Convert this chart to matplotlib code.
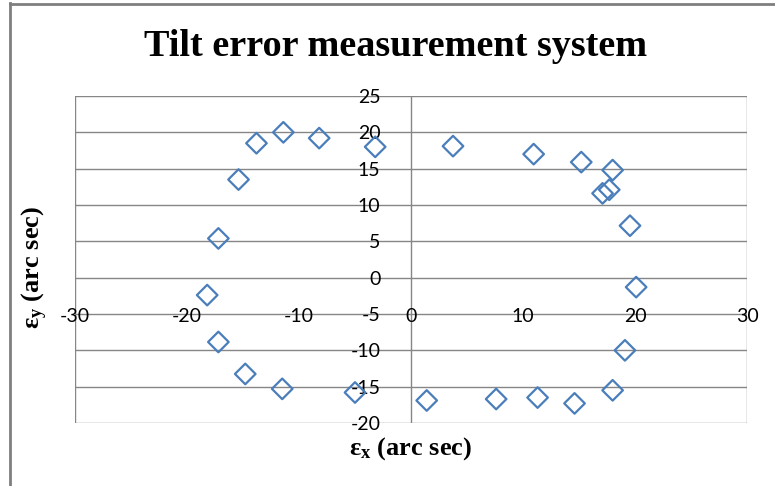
import matplotlib
matplotlib.use('Agg')
import matplotlib.pyplot as plt
from matplotlib.lines import Line2D

plt.rcParams['mathtext.fontset'] = 'custom'
plt.rcParams['mathtext.rm'] = 'Liberation Serif:bold'
plt.rcParams['mathtext.bf'] = 'Liberation Serif:bold'
plt.rcParams['mathtext.it'] = 'Liberation Serif:bold'

# measured tilt errors (arc sec)
eps_x = [-17.2, -15.4, -13.8, -11.4, -8.2, -3.2,
         3.75, 10.95, 15.2, 18.0, 17.1, 17.7, 19.55,
         20.1, 19.1, 18.0, 14.6, 11.3, 7.6, 1.4,
         -5.0, -11.5, -14.8, -17.2, -18.2]
eps_y = [5.4, 13.5, 18.5, 20.0, 19.2, 18.0,
         18.1, 17.0, 15.9, 14.8, 11.6, 12.1, 7.15,
         -1.3, -10.0, -15.5, -17.3, -16.5, -16.7, -16.9,
         -15.8, -15.3, -13.25, -8.85, -2.4]

x_ticks = [-30, -20, -10, 0, 10, 20, 30]
y_ticks = [-20, -15, -10, -5, 0, 5, 10, 15, 20, 25]

grid_col = '#868686'
blue = '#4a7ebb'

fig = plt.figure(figsize=(7.75, 4.86), dpi=100)
ax = fig.add_axes([0.0968, 0.1296, 0.8671, 0.6729])

ax.set_xlim(-30, 30)
ax.set_ylim(-20, 25)
for y in y_ticks:
    ax.axhline(y, color=grid_col, lw=1.0, zorder=1)
for x in (-30, 0, 30):
    ax.axvline(x, color=grid_col, lw=1.0, zorder=1)

for s in ax.spines.values():
    s.set_visible(False)
ax.spines['left'].set_position(('data', 0))
ax.spines['bottom'].set_position(('data', 0))

ax.set_xticks(x_ticks)
ax.set_yticks(y_ticks)
ax.tick_params(length=0, labelsize=14, colors='black')
ax.tick_params(axis='x', pad=22)
ax.tick_params(axis='y', pad=22)
for lab in ax.get_xticklabels() + ax.get_yticklabels():
    lab.set_fontfamily('Lato')
ax.xaxis.set_major_formatter(matplotlib.ticker.FuncFormatter(lambda v, p: '%d' % v))
ax.yaxis.set_major_formatter(matplotlib.ticker.FuncFormatter(lambda v, p: '%d' % v))

ax.scatter(eps_x, eps_y, marker='D', s=110, facecolors='none',
           edgecolors=blue, linewidths=1.6, zorder=3, clip_on=False)

fig.text(0.51, 0.905, 'Tilt error measurement system', ha='center', va='center',
         fontsize=27.5, fontweight='bold', family='Liberation Serif')
fig.text(0.530, 0.078, 'ε$_\\mathregular{x}$ (arc sec)', ha='center', va='center',
         fontsize=19, fontweight='bold', family='Liberation Serif')
fig.text(0.045, 0.449, 'ε$_\\mathregular{y}$ (arc sec)', ha='center', va='center',
         rotation=90, fontsize=19, fontweight='bold', family='Liberation Serif')

# outer chart border (screenshot edge)
fig.add_artist(Line2D([9.5 / 775, 9.5 / 775], [0, 1 - 3 / 486],
                      transform=fig.transFigure, color='#7f7f7f', lw=2))
fig.add_artist(Line2D([9.5 / 775, 1], [1 - 4 / 486, 1 - 4 / 486],
                      transform=fig.transFigure, color='#7f7f7f', lw=2))

fig.savefig('out.png', dpi=100)
